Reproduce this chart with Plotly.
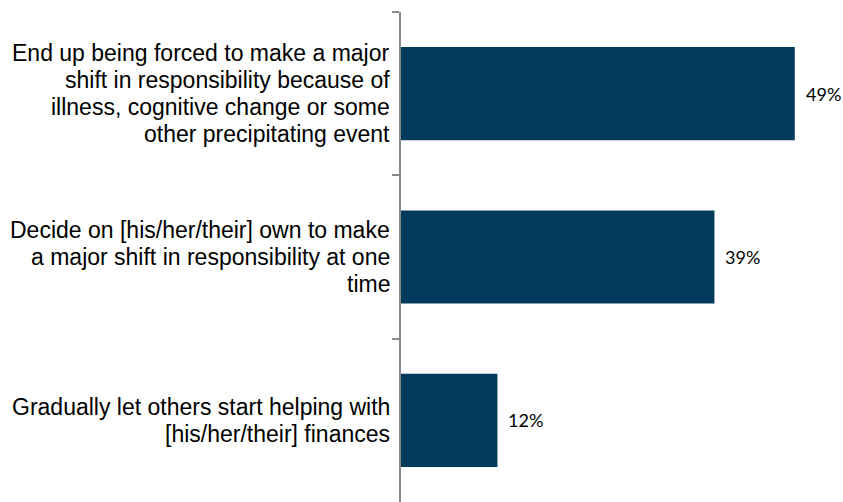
import plotly.graph_objects as go

categories = [
    "End up being forced to make a major<br>shift in responsibility because of<br>illness, cognitive change or some<br>other precipitating event",
    "Decide on [his/her/their] own to make<br>a major shift in responsibility at one<br>time",
    "Gradually let others start helping with<br>[his/her/their] finances",
]
values = [49, 39, 12]
value_labels = ["49%", "39%", "12%"]

LINE_PITCH = 27

fig = go.Figure()
fig.add_trace(go.Bar(
    y=categories, x=values, orientation="h",
    marker=dict(color="#003A5D", line=dict(width=0)),
    hoverinfo="skip",
))
for c, v, t in zip(categories, values, value_labels):
    fig.add_annotation(x=v, y=c, text=t, showarrow=False, xanchor="left",
                       xshift=9, font=dict(family="Lato", size=18, color="#000000"))
    lines = c.split("<br>")
    n = len(lines)
    for i, ln in enumerate(lines):
        fig.add_annotation(xref="paper", x=0, y=c, yref="y", text=ln, showarrow=False,
                           xanchor="right", yanchor="middle", xshift=-9,
                           yshift=((n - 1) / 2 - i) * LINE_PITCH,
                           font=dict(family="Liberation Sans, Arial", size=23, color="#000000"))

fig.update_layout(
    width=843, height=502,
    margin=dict(l=401, r=0, t=12, b=0),
    paper_bgcolor="white", plot_bgcolor="white",
    bargap=0.43, showlegend=False,
)
fig.update_xaxes(range=[0, 55], visible=False, fixedrange=True)
fig.update_yaxes(
    autorange="reversed", tickson="boundaries", ticks="outside", ticklen=7,
    tickcolor="#898989", tickwidth=2, showline=True, linecolor="#898989",
    linewidth=2, showgrid=False, showticklabels=False,
)
fig.write_html(
    "out.html",
    config={"displayModeBar": False},
    post_script="document.body.style.margin='0';document.body.style.overflow='hidden';",
)
